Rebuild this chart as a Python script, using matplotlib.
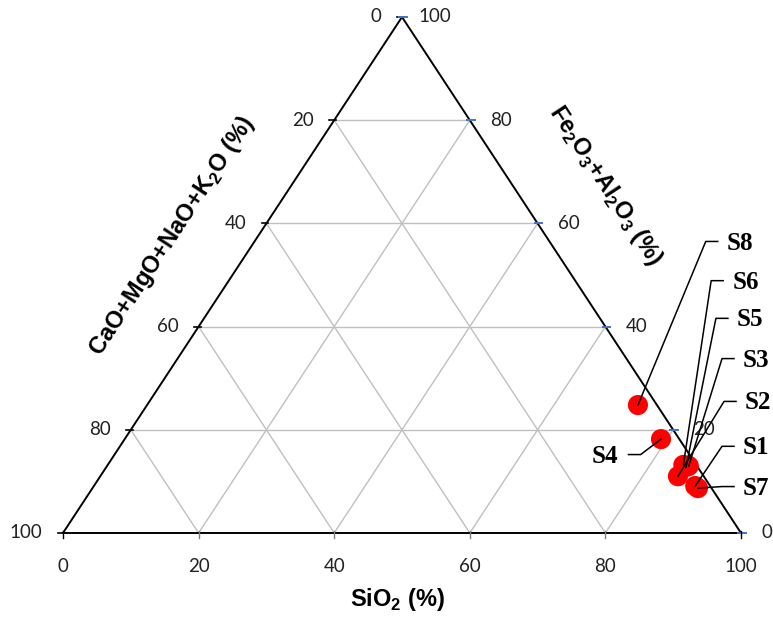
"""Ternary diagram of oxide composition for samples S1-S8."""

import matplotlib.pyplot as plt

plt.rcParams["mathtext.fontset"] = "custom"
plt.rcParams["mathtext.rm"] = "Liberation Sans"
plt.rcParams["mathtext.bf"] = "Liberation Sans:bold"

# composition (%)
samples = ["S1", "S2", "S3", "S4", "S5", "S6", "S7", "S8"]
sio2 = [88.7, 85.2, 85.8, 79.1, 85.5, 84.9, 89.3, 72.4]
fe_al = [9.1, 11.0, 13.0, 18.2, 12.8, 13.2, 8.7, 24.8]
ca_mg = [2.2, 3.8, 1.2, 2.7, 1.7, 1.9, 2.0, 2.8]

ticks = [0, 20, 40, 60, 80, 100]

# label anchors (data units of the plot frame) and side of the leader line
label_pos = {
    "S8": (97.9, 56.2, "right"),
    "S6": (98.7, 48.6, "right"),
    "S5": (99.4, 41.3, "right"),
    "S3": (100.3, 33.5, "right"),
    "S2": (100.6, 25.2, "right"),
    "S1": (100.3, 16.5, "right"),
    "S7": (100.3, 8.7, "right"),
    "S4": (81.9, 14.9, "left"),
}


def to_xy(si, fe):
    return si + fe / 2.0, fe


fig = plt.figure(figsize=(7.73, 6.19), dpi=100)
ax = fig.add_axes([63 / 773, 86 / 619, 678 / 773, 516 / 619])
ax.set_xlim(0, 100)
ax.set_ylim(0, 100)
ax.axis("off")

grid_kw = dict(color="#c0c0c0", lw=1.0, zorder=1)
for v in ticks[1:-1]:
    ax.plot([v / 2, 100 - v / 2], [v, v], **grid_kw)
    ax.plot([v, v + (100 - v) / 2], [0, 100 - v], **grid_kw)
    ax.plot([100 - v, (100 - v) / 2], [0, 100 - v], **grid_kw)

ax.plot([0, 100, 50, 0], [0, 0, 100, 0], color="black", lw=1.4, zorder=2,
        clip_on=False)

# tick marks and labels
num_font = dict(family="Lato", fontsize=13.5, color="#222222")
for v in ticks:
    # left edge: CaO+... = 100 - v at height v
    xl, yl = to_xy(0, v)
    ax.plot([xl - 0.7, xl + 0.3], [yl, yl], color="black", lw=1.2,
            clip_on=False, zorder=3)
    ax.text(xl - 3.0, yl, str(100 - v), ha="right", va="center", **num_font)
    # right edge: Fe2O3+Al2O3 = v
    xr, yr = to_xy(100 - v, v)
    ax.plot([xr - 0.4, xr + 0.7], [yr, yr], color="#4472c4", lw=1.4,
            clip_on=False, zorder=3)
    if v == 100:
        ax.text(xr + 2.4, yr, str(v), ha="left", va="center", **num_font)
    else:
        ax.text(xr + 3.0, yr, str(v), ha="left", va="center", **num_font)
    # bottom: SiO2
    ax.plot([v, v], [-1.0, 0.3], color="#7f7f7f" if 0 < v < 100 else "black",
            lw=1.0, clip_on=False, zorder=3)
    ax.text(v, -6.4, str(v), ha="center", va="center", **num_font)

title_kw = dict(fontsize=17, fontweight="bold", family="Liberation Sans",
                ha="center", va="center")
ax.text(49.3, -12.9, r"SiO$_\mathbf{2}$ (%)", **title_kw)
ax.text(16.1, 57.6, r"CaO+MgO+NaO+K$_\mathbf{2}$O (%)", rotation=56.7,
        **title_kw)
ax.text(80.0, 67.4, r"Fe$_\mathbf{2}$O$_\mathbf{3}$+Al$_\mathbf{2}$O$_\mathbf{3}$ (%)",
        rotation=-56.7, **title_kw)

# samples
xs = [to_xy(s, f)[0] for s, f in zip(sio2, fe_al)]
ys = [to_xy(s, f)[1] for s, f in zip(sio2, fe_al)]
ax.scatter(xs, ys, s=210, color="#ff0000", edgecolors="none", zorder=4,
           clip_on=False)

for name, x, y in zip(samples, xs, ys):
    tx, ty, side = label_pos[name]
    if side == "right":
        end_x, knee_x = tx - 1.33, tx - 3.1
        ha = "left"
    else:
        end_x, knee_x = tx + 1.5, tx + 3.3
        ha = "right"
    ly = ty + 0.3
    ax.plot([x, knee_x, end_x], [y, ly, ly], color="black", lw=1.1,
            zorder=5, clip_on=False)
    ax.text(tx, ty, name, ha=ha, va="center", family="Liberation Serif",
            fontweight="bold", fontsize=18, zorder=6)

fig.savefig("out.png", dpi=100)
